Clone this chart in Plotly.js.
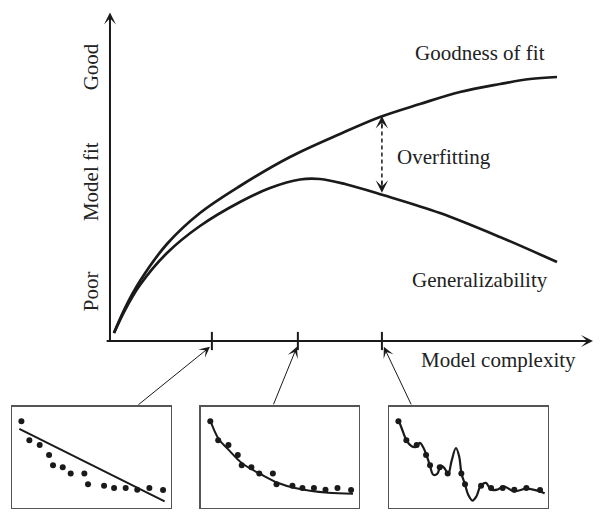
<!DOCTYPE html>
<html><head><meta charset="utf-8">
<script src="https://cdn.plot.ly/plotly-3.0.1.min.js"></script>
<style>html,body{margin:0;padding:0;background:#fff}</style>
</head><body><div id="chart" style="width:601px;height:519px"></div>
<script>
// Main curves (model complexity vs. model fit, arbitrary units)
const goodnessX = [0.083, 0.311, 0.621, 1.180, 1.863, 2.692, 3.727, 4.762, 5.590, 6.418, 7.246, 8.075, 8.696, 9.255];
const goodnessOfFit = [0.245, 1.012, 1.840, 2.975, 3.926, 4.755, 5.644, 6.350, 6.871, 7.270, 7.638, 7.883, 8.037, 8.098];
const generalX = [0.083, 0.311, 0.621, 1.180, 1.863, 2.692, 3.313, 3.934, 4.348, 4.865, 5.652, 6.832, 8.075, 9.255];
const generalizability = [0.245, 0.951, 1.718, 2.699, 3.528, 4.264, 4.693, 4.954, 4.969, 4.816, 4.479, 3.926, 3.190, 2.423];
const tickPositions = [2.11, 3.89, 5.63];
const overfitGapX = 5.63;
const yLabels = ['Poor', 'Model fit', 'Good'];
const curveLabels = ['Goodness of fit', 'Overfitting', 'Generalizability'];
const xLabel = 'Model complexity';

// Sample data shared by the three insets
const sampleX = [0.59, 1.09, 1.74, 2.33, 2.58, 3.19, 3.69, 4.55, 4.78, 5.79, 6.42, 7.15, 7.88, 8.64, 9.50];
const sampleY = [8.59, 6.72, 6.23, 5.25, 4.23, 4.03, 3.41, 3.41, 2.36, 2.20, 1.97, 1.97, 1.80, 1.97, 1.77];
// Fitted models
const underfitX = [0.46, 9.60];
const underfitY = [7.84, 0.66];
const goodFitX = [0.57, 1.11, 1.74, 2.58, 3.84, 4.89, 5.95, 7.00, 8.05, 9.62];
const goodFitY = [8.75, 6.86, 5.78, 4.46, 3.30, 2.48, 1.98, 1.68, 1.52, 1.42];
const overfitX = [0.59, 0.79, 1.11, 1.42, 1.69, 1.95, 2.15, 2.36, 2.57, 2.78, 3.03, 3.26, 3.51, 3.72, 3.93, 4.21, 4.41, 4.56, 4.77, 4.98, 5.25, 5.50, 5.75, 6.09, 6.42, 6.80, 7.22, 7.85, 8.64, 9.27, 9.79];
const overfitY = [8.75, 7.92, 6.67, 6.11, 6.04, 6.44, 6.01, 5.21, 4.22, 3.30, 3.37, 4.19, 3.89, 3.30, 4.62, 5.94, 5.12, 3.40, 2.38, 1.32, 0.73, 1.16, 2.15, 2.48, 1.82, 1.82, 2.15, 1.65, 1.91, 1.75, 1.45];

const ink = '#1a1a1a';
const serif = 'Liberation Serif, Times New Roman, serif';

const traces = [
  {x: goodnessX, y: goodnessOfFit, mode: 'lines', line: {color: ink, width: 2.7, shape: 'spline', smoothing: 1}, xaxis: 'x', yaxis: 'y'},
  {x: generalX, y: generalizability, mode: 'lines', line: {color: ink, width: 2.7, shape: 'spline', smoothing: 1}, xaxis: 'x', yaxis: 'y'},
  {x: tickPositions, y: tickPositions.map(() => 0), mode: 'markers', marker: {symbol: 'line-ns', size: 13, line: {color: ink, width: 2}}, xaxis: 'x', yaxis: 'y'},
  // inset 1: underfit
  {x: sampleX, y: sampleY, mode: 'markers', marker: {color: ink, size: 6}, xaxis: 'x2', yaxis: 'y2'},
  {x: underfitX, y: underfitY, mode: 'lines', line: {color: ink, width: 2}, xaxis: 'x2', yaxis: 'y2'},
  // inset 2: good fit
  {x: sampleX, y: sampleY, mode: 'markers', marker: {color: ink, size: 6}, xaxis: 'x3', yaxis: 'y3'},
  {x: goodFitX, y: goodFitY, mode: 'lines', line: {color: ink, width: 2, shape: 'spline', smoothing: 1}, xaxis: 'x3', yaxis: 'y3'},
  // inset 3: overfit
  {x: sampleX, y: sampleY, mode: 'markers', marker: {color: ink, size: 6}, xaxis: 'x4', yaxis: 'y4'},
  {x: overfitX, y: overfitY, mode: 'lines', line: {color: ink, width: 2.2, shape: 'spline', smoothing: 1}, xaxis: 'x4', yaxis: 'y4'}
];

function insetAxis(domain, anchor) {
  return {domain: domain, anchor: anchor, range: [0, 10], showline: true, mirror: true,
    linecolor: '#555', linewidth: 1.5, showgrid: false, zeroline: false, ticks: '', showticklabels: false, fixedrange: true};
}

const font = {family: serif, size: 21, color: '#222'};
const annotations = [
  // axis arrows
  {x: 10, y: 0, ax: -0.10, ay: 0, axref: 'x', ayref: 'y', xref: 'x', yref: 'y', showarrow: true, arrowhead: 3, arrowsize: 1, arrowwidth: 2, arrowcolor: ink, text: ''},
  {x: 0, y: 10.08, ax: 0, ay: -0.06, axref: 'x', ayref: 'y', xref: 'x', yref: 'y', showarrow: true, arrowhead: 3, arrowsize: 1, arrowwidth: 2, arrowcolor: ink, text: ''},
  // overfitting double arrow heads
  {x: overfitGapX, y: 6.90, ax: 0, ay: 13, xref: 'x', yref: 'y', showarrow: true, arrowhead: 3, arrowsize: 1.6, arrowwidth: 1.3, arrowcolor: ink, text: ''},
  {x: overfitGapX, y: 4.55, ax: 0, ay: -13, xref: 'x', yref: 'y', showarrow: true, arrowhead: 3, arrowsize: 1.6, arrowwidth: 1.3, arrowcolor: ink, text: ''},
  // inset pointers
  {x: tickPositions[0] - 0.04, y: -0.18, ax: -73, ay: 59, xref: 'x', yref: 'y', showarrow: true, arrowhead: 3, arrowsize: 1.8, arrowwidth: 1, arrowcolor: ink, text: ''},
  {x: tickPositions[1] - 0.02, y: -0.18, ax: -24, ay: 59, xref: 'x', yref: 'y', showarrow: true, arrowhead: 3, arrowsize: 1.8, arrowwidth: 1, arrowcolor: ink, text: ''},
  {x: tickPositions[2] + 0.04, y: -0.18, ax: 28, ay: 59, xref: 'x', yref: 'y', showarrow: true, arrowhead: 3, arrowsize: 1.8, arrowwidth: 1, arrowcolor: ink, text: ''},
  // labels
  {x: 7.66, y: 8.83, xref: 'x', yref: 'y', text: curveLabels[0], showarrow: false, font: font},
  {x: 6.92, y: 5.64, xref: 'x', yref: 'y', text: curveLabels[1], showarrow: false, font: font},
  {x: 7.66, y: 1.87, xref: 'x', yref: 'y', text: curveLabels[2], showarrow: false, font: font},
  {x: 8.05, y: -0.58, xref: 'x', yref: 'y', text: xLabel, showarrow: false, font: font},
  {x: -0.39, y: 1.53, xref: 'x', yref: 'y', text: yLabels[0], showarrow: false, textangle: -90, font: font},
  {x: -0.39, y: 4.88, xref: 'x', yref: 'y', text: yLabels[1], showarrow: false, textangle: -90, font: font},
  {x: -0.39, y: 8.40, xref: 'x', yref: 'y', text: yLabels[2], showarrow: false, textangle: -90, font: font}
];

const layout = {
  width: 601, height: 519,
  margin: {l: 0, r: 0, t: 0, b: 0},
  paper_bgcolor: '#fff', plot_bgcolor: 'rgba(0,0,0,0)',
  showlegend: false,
  xaxis: {domain: [0, 1], range: [-2.277, 10.166], visible: false, fixedrange: true},
  yaxis: {domain: [0, 1], range: [-5.46, 10.46], visible: false, fixedrange: true},
  xaxis2: insetAxis([0.020, 0.2845], 'y2'),
  yaxis2: insetAxis([0.0212, 0.2158], 'x2'),
  xaxis3: insetAxis([0.3344, 0.5973], 'y3'),
  yaxis3: insetAxis([0.0212, 0.2158], 'x3'),
  xaxis4: insetAxis([0.6473, 0.9118], 'y4'),
  yaxis4: insetAxis([0.0212, 0.2158], 'x4'),
  shapes: [
    {type: 'line', xref: 'x', yref: 'y', x0: overfitGapX, x1: overfitGapX, y0: 4.80, y1: 6.65, line: {color: ink, width: 1.5, dash: '4px,3px'}}
  ],
  annotations: annotations
};

Plotly.newPlot('chart', traces, layout, {displayModeBar: false, staticPlot: true});
</script></body></html>
